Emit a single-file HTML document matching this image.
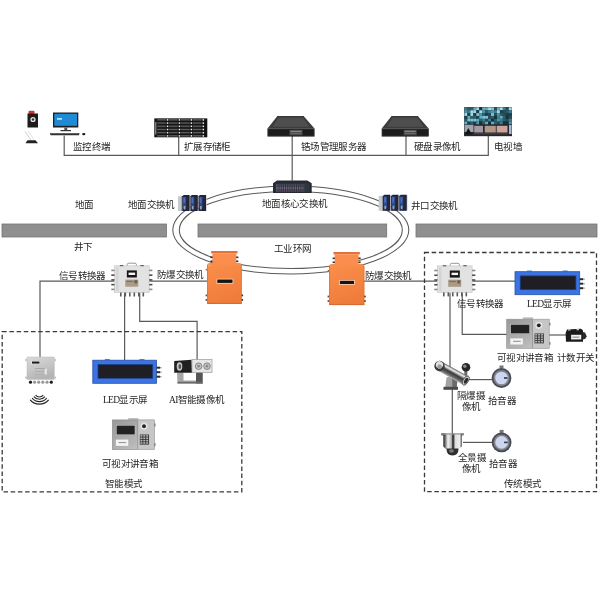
<!DOCTYPE html>
<html lang="zh-CN"><head><meta charset="utf-8"><style>
html,body{margin:0;padding:0;background:#fff;width:600px;height:600px;overflow:hidden;font-family:"Liberation Serif",serif}
body{position:relative}
svg{display:block;position:absolute;left:0;top:0}
.t{position:absolute;white-space:nowrap;will-change:transform;font-family:"Liberation Serif",serif;font-size:9.5px;line-height:1;font-weight:500;color:#1f1f1f;letter-spacing:-0.7px}
</style></head><body>
<svg width="600" height="600" viewBox="0 0 600 600">
<defs>
<linearGradient id="steel" x1="0" y1="0" x2="0.4" y2="1"><stop offset="0" stop-color="#dadada"/><stop offset="0.7" stop-color="#c0c0c0"/><stop offset="1" stop-color="#b4b4b4"/></linearGradient>
<linearGradient id="steel2" x1="0" y1="0" x2="1" y2="1"><stop offset="0" stop-color="#989898"/><stop offset="0.6" stop-color="#b4b4b4"/><stop offset="1" stop-color="#cfcfcf"/></linearGradient>
<linearGradient id="chrome" x1="0" y1="0" x2="0" y2="1"><stop offset="0" stop-color="#5a5a5a"/><stop offset="0.22" stop-color="#f0f0f0"/><stop offset="0.5" stop-color="#3a3a3a"/><stop offset="0.8" stop-color="#6a6a6a"/><stop offset="1" stop-color="#bdbdbd"/></linearGradient>
<linearGradient id="chrome2" x1="0" y1="0" x2="1" y2="0"><stop offset="0" stop-color="#6a6a6a"/><stop offset="0.12" stop-color="#2a2a2a"/><stop offset="0.3" stop-color="#f2f2f2"/><stop offset="0.45" stop-color="#bbb"/><stop offset="0.52" stop-color="#111"/><stop offset="0.62" stop-color="#ddd"/><stop offset="0.82" stop-color="#eee"/><stop offset="0.9" stop-color="#333"/><stop offset="1" stop-color="#999"/></linearGradient>
<linearGradient id="org" x1="0" y1="0" x2="0.3" y2="1"><stop offset="0" stop-color="#fa8f4c"/><stop offset="1" stop-color="#f07c3b"/></linearGradient>
</defs>
<rect width="600" height="600" fill="#fff"/>
<rect x="2.00" y="224.00" width="164.50" height="13.00" fill="#8f8f8f" stroke="#747474" stroke-width="0.8"/>
<rect x="198.00" y="224.00" width="188.70" height="13.00" fill="#8f8f8f" stroke="#747474" stroke-width="0.8"/>
<rect x="416.00" y="224.00" width="181.00" height="13.00" fill="#8f8f8f" stroke="#747474" stroke-width="0.8"/>
<ellipse cx="290.8" cy="230" rx="118" ry="44" fill="none" stroke="#5a5a5a" stroke-width="1.05"/>
<ellipse cx="290.8" cy="230" rx="111.5" ry="38.5" fill="none" stroke="#5a5a5a" stroke-width="1.05"/>
<polyline fill="none" stroke="#5a5a5a" stroke-width="1.2" points="64.2,135.5 64.2,155.4 488.3,155.4 488.3,136"/>
<polyline fill="none" stroke="#5a5a5a" stroke-width="1.2" points="178.7,136.5 178.7,155.4"/>
<polyline fill="none" stroke="#5a5a5a" stroke-width="1.2" points="292.2,136 292.2,180.5"/>
<polyline fill="none" stroke="#5a5a5a" stroke-width="1.2" points="406,136 406,155.4"/>
<polyline fill="none" stroke="#5a5a5a" stroke-width="1.2" points="114,281.2 40,281.2 40,357.2"/>
<polyline fill="none" stroke="#5a5a5a" stroke-width="1.2" points="149,281.2 208.5,281.2"/>
<polyline fill="none" stroke="#5a5a5a" stroke-width="1.2" points="124.6,293 124.6,360.5"/>
<polyline fill="none" stroke="#5a5a5a" stroke-width="1.2" points="139.7,293 139.7,321.4 197.1,321.4 197.1,360"/>
<polyline fill="none" stroke="#5a5a5a" stroke-width="1.2" points="363.5,281.2 437,281.2"/>
<polyline fill="none" stroke="#5a5a5a" stroke-width="1.2" points="472,281.2 515.5,281.2"/>
<polyline fill="none" stroke="#5a5a5a" stroke-width="1.2" points="450,293 450,372"/>
<polyline fill="none" stroke="#5a5a5a" stroke-width="1.2" points="452.3,386 452.3,434"/>
<polyline fill="none" stroke="#5a5a5a" stroke-width="1.2" points="462.2,293 462.2,334.4 507,334.4"/>
<polyline fill="none" stroke="#5a5a5a" stroke-width="1.2" points="549,335 566,335"/>
<polyline fill="none" stroke="#5a5a5a" stroke-width="1.2" points="466,379.6 492,379.6"/>
<polyline fill="none" stroke="#5a5a5a" stroke-width="1.2" points="463,442.4 492,442.4"/>
<rect x="2.2" y="331.6" width="239.6" height="160.2" fill="none" stroke="#3a3a3a" stroke-width="1.3" stroke-dasharray="4.5 2.7"/>
<rect x="424.5" y="252.5" width="172" height="239.2" fill="none" stroke="#3a3a3a" stroke-width="1.3" stroke-dasharray="4.5 2.7"/>
<rect x="28.5" y="110.8" width="6" height="3.5" rx="1" fill="#d8322e"/>
<rect x="27.50" y="113.50" width="10.50" height="14.00" fill="#1c1c1c" />
<circle cx="33" cy="119.5" r="2.6" fill="#e8e8e8"/><circle cx="33" cy="119.5" r="1.3" fill="#333"/>
<line x1="25" y1="131.5" x2="31" y2="140" stroke="#c4c4c4" stroke-width="0.9"/>
<line x1="28" y1="131" x2="34" y2="139.5" stroke="#d8d8d8" stroke-width="0.8"/>
<path d="M25.5 143.3 L27.5 140.3 L35.5 140.3 L38 143.3 Z" fill="#222"/>
<rect x="53.00" y="112.50" width="25.30" height="15.00" fill="#202020" />
<rect x="54.30" y="113.80" width="22.70" height="12.00" fill="#1f8ad6" />
<rect x="57.00" y="118.00" width="5.00" height="1.80" fill="#bfe0f7" />
<rect x="64.30" y="127.50" width="3.00" height="2.80" fill="#555" />
<rect x="60.50" y="130.00" width="10.50" height="1.20" fill="#333" />
<path d="M50 133 L79.5 133 L79 135.3 L50.5 135.3 Z" fill="#333"/>
<rect x="51.00" y="133.30" width="27.50" height="0.70" fill="#777" />
<ellipse cx="83.8" cy="134.2" rx="1.6" ry="1.1" fill="#111"/>
<rect x="154.30" y="118.40" width="53.00" height="18.90" fill="#121212" />
<rect x="155.20" y="122.00" width="1.20" height="12.50" fill="#9a9a9a" />
<rect x="156.80" y="118.80" width="9.60" height="2.20" fill="#2e2e2e" />
<rect x="157.30" y="119.40" width="8.30" height="0.80" fill="#6a6a6a" />
<rect x="166.85" y="119.15" width="1.50" height="1.50" fill="#f4f4f4" />
<rect x="168.70" y="118.80" width="9.60" height="2.20" fill="#2e2e2e" />
<rect x="169.20" y="119.40" width="8.30" height="0.80" fill="#6a6a6a" />
<rect x="178.75" y="119.15" width="1.50" height="1.50" fill="#f4f4f4" />
<rect x="180.60" y="118.80" width="9.60" height="2.20" fill="#2e2e2e" />
<rect x="181.10" y="119.40" width="8.30" height="0.80" fill="#6a6a6a" />
<rect x="190.65" y="119.15" width="1.50" height="1.50" fill="#f4f4f4" />
<rect x="192.50" y="118.80" width="9.60" height="2.20" fill="#2e2e2e" />
<rect x="193.00" y="119.40" width="8.30" height="0.80" fill="#6a6a6a" />
<rect x="202.55" y="119.15" width="1.50" height="1.50" fill="#f4f4f4" />
<rect x="156.80" y="122.00" width="9.60" height="2.20" fill="#2e2e2e" />
<rect x="157.30" y="122.60" width="8.30" height="0.80" fill="#6a6a6a" />
<rect x="166.85" y="122.35" width="1.50" height="1.50" fill="#f4f4f4" />
<rect x="168.70" y="122.00" width="9.60" height="2.20" fill="#2e2e2e" />
<rect x="169.20" y="122.60" width="8.30" height="0.80" fill="#6a6a6a" />
<rect x="178.75" y="122.35" width="1.50" height="1.50" fill="#f4f4f4" />
<rect x="180.60" y="122.00" width="9.60" height="2.20" fill="#2e2e2e" />
<rect x="181.10" y="122.60" width="8.30" height="0.80" fill="#6a6a6a" />
<rect x="190.65" y="122.35" width="1.50" height="1.50" fill="#f4f4f4" />
<rect x="192.50" y="122.00" width="9.60" height="2.20" fill="#2e2e2e" />
<rect x="193.00" y="122.60" width="8.30" height="0.80" fill="#6a6a6a" />
<rect x="202.55" y="122.35" width="1.50" height="1.50" fill="#f4f4f4" />
<rect x="156.80" y="125.20" width="9.60" height="2.20" fill="#2e2e2e" />
<rect x="157.30" y="125.80" width="8.30" height="0.80" fill="#6a6a6a" />
<rect x="166.85" y="125.55" width="1.50" height="1.50" fill="#f4f4f4" />
<rect x="168.70" y="125.20" width="9.60" height="2.20" fill="#2e2e2e" />
<rect x="169.20" y="125.80" width="8.30" height="0.80" fill="#6a6a6a" />
<rect x="178.75" y="125.55" width="1.50" height="1.50" fill="#f4f4f4" />
<rect x="180.60" y="125.20" width="9.60" height="2.20" fill="#2e2e2e" />
<rect x="181.10" y="125.80" width="8.30" height="0.80" fill="#6a6a6a" />
<rect x="190.65" y="125.55" width="1.50" height="1.50" fill="#f4f4f4" />
<rect x="192.50" y="125.20" width="9.60" height="2.20" fill="#2e2e2e" />
<rect x="193.00" y="125.80" width="8.30" height="0.80" fill="#6a6a6a" />
<rect x="202.55" y="125.55" width="1.50" height="1.50" fill="#f4f4f4" />
<rect x="156.80" y="128.40" width="9.60" height="2.20" fill="#2e2e2e" />
<rect x="157.30" y="129.00" width="8.30" height="0.80" fill="#6a6a6a" />
<rect x="166.85" y="128.75" width="1.50" height="1.50" fill="#f4f4f4" />
<rect x="168.70" y="128.40" width="9.60" height="2.20" fill="#2e2e2e" />
<rect x="169.20" y="129.00" width="8.30" height="0.80" fill="#6a6a6a" />
<rect x="178.75" y="128.75" width="1.50" height="1.50" fill="#f4f4f4" />
<rect x="180.60" y="128.40" width="9.60" height="2.20" fill="#2e2e2e" />
<rect x="181.10" y="129.00" width="8.30" height="0.80" fill="#6a6a6a" />
<rect x="190.65" y="128.75" width="1.50" height="1.50" fill="#f4f4f4" />
<rect x="192.50" y="128.40" width="9.60" height="2.20" fill="#2e2e2e" />
<rect x="193.00" y="129.00" width="8.30" height="0.80" fill="#6a6a6a" />
<rect x="202.55" y="128.75" width="1.50" height="1.50" fill="#f4f4f4" />
<rect x="156.80" y="131.60" width="9.60" height="2.20" fill="#2e2e2e" />
<rect x="157.30" y="132.20" width="8.30" height="0.80" fill="#6a6a6a" />
<rect x="166.85" y="131.95" width="1.50" height="1.50" fill="#f4f4f4" />
<rect x="168.70" y="131.60" width="9.60" height="2.20" fill="#2e2e2e" />
<rect x="169.20" y="132.20" width="8.30" height="0.80" fill="#6a6a6a" />
<rect x="178.75" y="131.95" width="1.50" height="1.50" fill="#f4f4f4" />
<rect x="180.60" y="131.60" width="9.60" height="2.20" fill="#2e2e2e" />
<rect x="181.10" y="132.20" width="8.30" height="0.80" fill="#6a6a6a" />
<rect x="190.65" y="131.95" width="1.50" height="1.50" fill="#f4f4f4" />
<rect x="192.50" y="131.60" width="9.60" height="2.20" fill="#2e2e2e" />
<rect x="193.00" y="132.20" width="8.30" height="0.80" fill="#6a6a6a" />
<rect x="202.55" y="131.95" width="1.50" height="1.50" fill="#f4f4f4" />
<rect x="156.80" y="134.80" width="9.60" height="2.20" fill="#2e2e2e" />
<rect x="157.30" y="135.40" width="8.30" height="0.80" fill="#6a6a6a" />
<rect x="166.85" y="135.15" width="1.50" height="1.50" fill="#f4f4f4" />
<rect x="168.70" y="134.80" width="9.60" height="2.20" fill="#2e2e2e" />
<rect x="169.20" y="135.40" width="8.30" height="0.80" fill="#6a6a6a" />
<rect x="178.75" y="135.15" width="1.50" height="1.50" fill="#f4f4f4" />
<rect x="180.60" y="134.80" width="9.60" height="2.20" fill="#2e2e2e" />
<rect x="181.10" y="135.40" width="8.30" height="0.80" fill="#6a6a6a" />
<rect x="190.65" y="135.15" width="1.50" height="1.50" fill="#f4f4f4" />
<rect x="192.50" y="134.80" width="9.60" height="2.20" fill="#2e2e2e" />
<rect x="193.00" y="135.40" width="8.30" height="0.80" fill="#6a6a6a" />
<rect x="202.55" y="135.15" width="1.50" height="1.50" fill="#f4f4f4" />
<path d="M277.00 116.50 L304.00 116.50 L314.50 128.50 L267.50 128.50 Z" fill="#3c3c3c"/>
<path d="M278.50 117.70 L303.00 117.70 L309.50 126.70 L272.50 126.70 Z" fill="#4e4e4e"/>
<path d="M277.00 116.50 L304.00 116.50" stroke="#222" stroke-width="0.8"/>
<rect x="267.50" y="128.50" width="47.00" height="8.00" fill="#141414" />
<rect x="268.10" y="129.10" width="45.80" height="6.80" fill="#1c1c1c" stroke="#3a3a3a" stroke-width="0.5"/>
<rect x="289.50" y="129.90" width="13.00" height="5.40" fill="#4a4a4a" />
<rect x="290.50" y="130.80" width="11.00" height="0.90" fill="#9a9a9a" />
<rect x="290.50" y="132.90" width="11.00" height="0.70" fill="#777" />
<path d="M391.20 116.50 L418.20 116.50 L428.70 128.50 L381.70 128.50 Z" fill="#3c3c3c"/>
<path d="M392.70 117.70 L417.20 117.70 L423.70 126.70 L386.70 126.70 Z" fill="#4e4e4e"/>
<path d="M391.20 116.50 L418.20 116.50" stroke="#222" stroke-width="0.8"/>
<rect x="381.70" y="128.50" width="47.00" height="8.00" fill="#141414" />
<rect x="382.30" y="129.10" width="45.80" height="6.80" fill="#1c1c1c" stroke="#3a3a3a" stroke-width="0.5"/>
<rect x="403.70" y="129.90" width="13.00" height="5.40" fill="#4a4a4a" />
<rect x="404.70" y="130.80" width="11.00" height="0.90" fill="#9a9a9a" />
<rect x="404.70" y="132.90" width="11.00" height="0.70" fill="#777" />
<rect x="464.20" y="107.10" width="47.70" height="29.00" fill="#20303a" />
<rect x="464.50" y="107.40" width="2.95" height="2.85" fill="#3c7f92" />
<rect x="464.50" y="110.25" width="2.95" height="2.85" fill="#4b98ac" />
<rect x="464.50" y="113.10" width="2.95" height="2.85" fill="#a7dbe2" />
<rect x="464.50" y="115.95" width="2.95" height="2.85" fill="#1f3f4c" />
<rect x="464.50" y="118.80" width="2.95" height="2.85" fill="#2b5f70" />
<rect x="464.50" y="121.65" width="2.95" height="2.85" fill="#5fb0c2" />
<rect x="467.45" y="107.40" width="2.95" height="2.85" fill="#2b5f70" />
<rect x="467.45" y="110.25" width="2.95" height="2.85" fill="#3c7f92" />
<rect x="467.45" y="113.10" width="2.95" height="2.85" fill="#1f3f4c" />
<rect x="467.45" y="115.95" width="2.95" height="2.85" fill="#5fb0c2" />
<rect x="467.45" y="118.80" width="2.95" height="2.85" fill="#7fc6d4" />
<rect x="467.45" y="121.65" width="2.95" height="2.85" fill="#1f3f4c" />
<rect x="470.40" y="107.40" width="2.95" height="2.85" fill="#2b5f70" />
<rect x="470.40" y="110.25" width="2.95" height="2.85" fill="#a7dbe2" />
<rect x="470.40" y="113.10" width="2.95" height="2.85" fill="#a7dbe2" />
<rect x="470.40" y="115.95" width="2.95" height="2.85" fill="#2b5f70" />
<rect x="470.40" y="118.80" width="2.95" height="2.85" fill="#7fc6d4" />
<rect x="470.40" y="121.65" width="2.95" height="2.85" fill="#2b5f70" />
<rect x="473.35" y="107.40" width="2.95" height="2.85" fill="#5fb0c2" />
<rect x="473.35" y="110.25" width="2.95" height="2.85" fill="#a7dbe2" />
<rect x="473.35" y="113.10" width="2.95" height="2.85" fill="#1f3f4c" />
<rect x="473.35" y="115.95" width="2.95" height="2.85" fill="#2b5f70" />
<rect x="473.35" y="118.80" width="2.95" height="2.85" fill="#7fc6d4" />
<rect x="473.35" y="121.65" width="2.95" height="2.85" fill="#1f3f4c" />
<rect x="476.30" y="107.40" width="2.95" height="2.85" fill="#a7dbe2" />
<rect x="476.30" y="110.25" width="2.95" height="2.85" fill="#1f3f4c" />
<rect x="476.30" y="113.10" width="2.95" height="2.85" fill="#7fc6d4" />
<rect x="476.30" y="115.95" width="2.95" height="2.85" fill="#1f3f4c" />
<rect x="476.30" y="118.80" width="2.95" height="2.85" fill="#5fb0c2" />
<rect x="476.30" y="121.65" width="2.95" height="2.85" fill="#4b98ac" />
<rect x="479.25" y="107.40" width="2.95" height="2.85" fill="#173039" />
<rect x="479.25" y="110.25" width="2.95" height="2.85" fill="#a7dbe2" />
<rect x="479.25" y="113.10" width="2.95" height="2.85" fill="#4b98ac" />
<rect x="479.25" y="115.95" width="2.95" height="2.85" fill="#5fb0c2" />
<rect x="479.25" y="118.80" width="2.95" height="2.85" fill="#2b5f70" />
<rect x="479.25" y="121.65" width="2.95" height="2.85" fill="#173039" />
<rect x="482.20" y="107.40" width="2.95" height="2.85" fill="#5fb0c2" />
<rect x="482.20" y="110.25" width="2.95" height="2.85" fill="#4b98ac" />
<rect x="482.20" y="113.10" width="2.95" height="2.85" fill="#2b5f70" />
<rect x="482.20" y="115.95" width="2.95" height="2.85" fill="#7fc6d4" />
<rect x="482.20" y="118.80" width="2.95" height="2.85" fill="#3c7f92" />
<rect x="482.20" y="121.65" width="2.95" height="2.85" fill="#2b5f70" />
<rect x="485.15" y="107.40" width="2.95" height="2.85" fill="#5fb0c2" />
<rect x="485.15" y="110.25" width="2.95" height="2.85" fill="#2b5f70" />
<rect x="485.15" y="113.10" width="2.95" height="2.85" fill="#1f3f4c" />
<rect x="485.15" y="115.95" width="2.95" height="2.85" fill="#7fc6d4" />
<rect x="485.15" y="118.80" width="2.95" height="2.85" fill="#2a4c58" />
<rect x="485.15" y="121.65" width="2.95" height="2.85" fill="#5fb0c2" />
<rect x="488.10" y="107.40" width="2.95" height="2.85" fill="#a7dbe2" />
<rect x="488.10" y="110.25" width="2.95" height="2.85" fill="#3c7f92" />
<rect x="488.10" y="113.10" width="2.95" height="2.85" fill="#2a4c58" />
<rect x="488.10" y="115.95" width="2.95" height="2.85" fill="#2a4c58" />
<rect x="488.10" y="118.80" width="2.95" height="2.85" fill="#3c7f92" />
<rect x="488.10" y="121.65" width="2.95" height="2.85" fill="#173039" />
<rect x="491.05" y="107.40" width="2.95" height="2.85" fill="#7fc6d4" />
<rect x="491.05" y="110.25" width="2.95" height="2.85" fill="#4b98ac" />
<rect x="491.05" y="113.10" width="2.95" height="2.85" fill="#7fc6d4" />
<rect x="491.05" y="115.95" width="2.95" height="2.85" fill="#2b5f70" />
<rect x="491.05" y="118.80" width="2.95" height="2.85" fill="#173039" />
<rect x="491.05" y="121.65" width="2.95" height="2.85" fill="#5fb0c2" />
<rect x="494.00" y="107.40" width="2.95" height="2.85" fill="#2a4c58" />
<rect x="494.00" y="110.25" width="2.95" height="2.85" fill="#3c7f92" />
<rect x="494.00" y="113.10" width="2.95" height="2.85" fill="#2a4c58" />
<rect x="494.00" y="115.95" width="2.95" height="2.85" fill="#173039" />
<rect x="494.00" y="118.80" width="2.95" height="2.85" fill="#2b5f70" />
<rect x="494.00" y="121.65" width="2.95" height="2.85" fill="#2b5f70" />
<rect x="496.95" y="107.40" width="2.95" height="2.85" fill="#5fb0c2" />
<rect x="496.95" y="110.25" width="2.95" height="2.85" fill="#a7dbe2" />
<rect x="496.95" y="113.10" width="2.95" height="2.85" fill="#4b98ac" />
<rect x="496.95" y="115.95" width="2.95" height="2.85" fill="#3c7f92" />
<rect x="496.95" y="118.80" width="2.95" height="2.85" fill="#4b98ac" />
<rect x="496.95" y="121.65" width="2.95" height="2.85" fill="#2a4c58" />
<rect x="499.90" y="107.40" width="2.95" height="2.85" fill="#a7dbe2" />
<rect x="499.90" y="110.25" width="2.95" height="2.85" fill="#1f3f4c" />
<rect x="499.90" y="113.10" width="2.95" height="2.85" fill="#2b5f70" />
<rect x="499.90" y="115.95" width="2.95" height="2.85" fill="#5fb0c2" />
<rect x="499.90" y="118.80" width="2.95" height="2.85" fill="#3c7f92" />
<rect x="499.90" y="121.65" width="2.95" height="2.85" fill="#3c7f92" />
<rect x="502.85" y="107.40" width="2.95" height="2.85" fill="#3c7f92" />
<rect x="502.85" y="110.25" width="2.95" height="2.85" fill="#2a4c58" />
<rect x="502.85" y="113.10" width="2.95" height="2.85" fill="#2a4c58" />
<rect x="502.85" y="115.95" width="2.95" height="2.85" fill="#2b5f70" />
<rect x="502.85" y="118.80" width="2.95" height="2.85" fill="#2b5f70" />
<rect x="502.85" y="121.65" width="2.95" height="2.85" fill="#173039" />
<rect x="505.80" y="107.40" width="2.95" height="2.85" fill="#2a4c58" />
<rect x="505.80" y="110.25" width="2.95" height="2.85" fill="#2b5f70" />
<rect x="505.80" y="113.10" width="2.95" height="2.85" fill="#1f3f4c" />
<rect x="505.80" y="115.95" width="2.95" height="2.85" fill="#173039" />
<rect x="505.80" y="118.80" width="2.95" height="2.85" fill="#2a4c58" />
<rect x="505.80" y="121.65" width="2.95" height="2.85" fill="#173039" />
<rect x="508.75" y="107.40" width="2.95" height="2.85" fill="#a7dbe2" />
<rect x="508.75" y="110.25" width="2.95" height="2.85" fill="#3c7f92" />
<rect x="508.75" y="113.10" width="2.95" height="2.85" fill="#1f3f4c" />
<rect x="508.75" y="115.95" width="2.95" height="2.85" fill="#2a4c58" />
<rect x="508.75" y="118.80" width="2.95" height="2.85" fill="#3c7f92" />
<rect x="508.75" y="121.65" width="2.95" height="2.85" fill="#4b98ac" />
<rect x="464.20" y="124.50" width="47.70" height="11.60" fill="#26272c" />
<rect x="464.50" y="124.80" width="9.00" height="7.20" fill="#9ea3ad" />
<path d="M465 134.5 L468.3 128 L472 134.5 Z" fill="#141414"/>
<rect x="474.20" y="125.80" width="8.80" height="6.70" fill="#a29a9e" />
<rect x="484.70" y="125.80" width="11.10" height="6.70" fill="#b3968a" />
<rect x="496.70" y="125.80" width="10.80" height="6.70" fill="#cda39a" />
<rect x="509.00" y="125.00" width="2.60" height="9.00" fill="#a8b4d8" />
<rect x="474.00" y="133.50" width="34.00" height="0.70" fill="#55565c" />
<rect x="178.00" y="196.20" width="4.20" height="14.80" fill="#c6c9ce" />
<rect x="181.20" y="196.20" width="1.00" height="14.80" fill="#9aa0a8" />
<path d="M182.20 196.20 L183.70 195.00 L189.67 195.00 L189.67 211.00 Z" fill="#1d2340"/>
<rect x="182.20" y="196.20" width="7.47" height="14.80" fill="#1d2340"/>
<rect x="183.00" y="196.80" width="3.40" height="11.70" fill="#2c4a8e" />
<rect x="183.40" y="197.50" width="1.80" height="5.50" fill="#4a6fb8" />
<rect x="186.40" y="197.00" width="2.37" height="13.00" fill="#2a2730" />
<rect x="183.70" y="206.00" width="1.70" height="3.50" fill="#9aa2b5" />
<rect x="189.67" y="195.50" width="0.70" height="15.50" fill="#c8cbd2" />
<path d="M190.37 196.20 L191.87 195.00 L197.83 195.00 L197.83 211.00 Z" fill="#1d2340"/>
<rect x="190.37" y="196.20" width="7.47" height="14.80" fill="#1d2340"/>
<rect x="191.17" y="196.80" width="3.40" height="11.70" fill="#2c4a8e" />
<rect x="191.57" y="197.50" width="1.80" height="5.50" fill="#4a6fb8" />
<rect x="194.57" y="197.00" width="2.37" height="13.00" fill="#2a2730" />
<rect x="191.87" y="206.00" width="1.70" height="3.50" fill="#9aa2b5" />
<rect x="197.83" y="195.50" width="0.70" height="15.50" fill="#c8cbd2" />
<path d="M198.53 196.20 L200.03 195.00 L206.00 195.00 L206.00 211.00 Z" fill="#1d2340"/>
<rect x="198.53" y="196.20" width="7.47" height="14.80" fill="#1d2340"/>
<rect x="199.33" y="196.80" width="3.40" height="11.70" fill="#2c4a8e" />
<rect x="199.73" y="197.50" width="1.80" height="5.50" fill="#4a6fb8" />
<rect x="202.73" y="197.00" width="2.37" height="13.00" fill="#2a2730" />
<rect x="200.03" y="206.00" width="1.70" height="3.50" fill="#9aa2b5" />
<rect x="206.00" y="195.50" width="0.70" height="15.50" fill="#c8cbd2" />
<rect x="378.70" y="195.90" width="4.20" height="14.90" fill="#c6c9ce" />
<rect x="381.90" y="195.90" width="1.00" height="14.90" fill="#9aa0a8" />
<path d="M382.90 195.90 L384.40 194.70 L390.40 194.70 L390.40 210.80 Z" fill="#1d2340"/>
<rect x="382.90" y="195.90" width="7.50" height="14.90" fill="#1d2340"/>
<rect x="383.70" y="196.50" width="3.40" height="11.80" fill="#2c4a8e" />
<rect x="384.10" y="197.20" width="1.80" height="5.50" fill="#4a6fb8" />
<rect x="387.10" y="196.70" width="2.40" height="13.10" fill="#2a2730" />
<rect x="384.40" y="205.80" width="1.70" height="3.50" fill="#9aa2b5" />
<rect x="390.40" y="195.20" width="0.70" height="15.60" fill="#c8cbd2" />
<path d="M391.10 195.90 L392.60 194.70 L398.60 194.70 L398.60 210.80 Z" fill="#1d2340"/>
<rect x="391.10" y="195.90" width="7.50" height="14.90" fill="#1d2340"/>
<rect x="391.90" y="196.50" width="3.40" height="11.80" fill="#2c4a8e" />
<rect x="392.30" y="197.20" width="1.80" height="5.50" fill="#4a6fb8" />
<rect x="395.30" y="196.70" width="2.40" height="13.10" fill="#2a2730" />
<rect x="392.60" y="205.80" width="1.70" height="3.50" fill="#9aa2b5" />
<rect x="398.60" y="195.20" width="0.70" height="15.60" fill="#c8cbd2" />
<path d="M399.30 195.90 L400.80 194.70 L406.80 194.70 L406.80 210.80 Z" fill="#1d2340"/>
<rect x="399.30" y="195.90" width="7.50" height="14.90" fill="#1d2340"/>
<rect x="400.10" y="196.50" width="3.40" height="11.80" fill="#2c4a8e" />
<rect x="400.50" y="197.20" width="1.80" height="5.50" fill="#4a6fb8" />
<rect x="403.50" y="196.70" width="2.40" height="13.10" fill="#2a2730" />
<rect x="400.80" y="205.80" width="1.70" height="3.50" fill="#9aa2b5" />
<rect x="406.80" y="195.20" width="0.70" height="15.60" fill="#c8cbd2" />
<path d="M277 180.4 L307.3 180.4 L311.7 183.3 L311.7 193 L273 193 L273 183.3 Z" fill="#262a33"/>
<rect x="276.00" y="183.80" width="33.00" height="8.00" fill="#4a5262" />
<rect x="276.50" y="187.00" width="27.50" height="2.30" fill="#8e5f7e" />
<rect x="277.60" y="184.00" width="0.85" height="7.50" fill="#2c313c" />
<rect x="279.45" y="184.00" width="0.85" height="7.50" fill="#2c313c" />
<rect x="281.30" y="184.00" width="0.85" height="7.50" fill="#2c313c" />
<rect x="283.15" y="184.00" width="0.85" height="7.50" fill="#2c313c" />
<rect x="285.00" y="184.00" width="0.85" height="7.50" fill="#2c313c" />
<rect x="286.85" y="184.00" width="0.85" height="7.50" fill="#2c313c" />
<rect x="288.70" y="184.00" width="0.85" height="7.50" fill="#2c313c" />
<rect x="290.55" y="184.00" width="0.85" height="7.50" fill="#2c313c" />
<rect x="292.40" y="184.00" width="0.85" height="7.50" fill="#2c313c" />
<rect x="294.25" y="184.00" width="0.85" height="7.50" fill="#2c313c" />
<rect x="296.10" y="184.00" width="0.85" height="7.50" fill="#2c313c" />
<rect x="297.95" y="184.00" width="0.85" height="7.50" fill="#2c313c" />
<rect x="299.80" y="184.00" width="0.85" height="7.50" fill="#2c313c" />
<rect x="301.65" y="184.00" width="0.85" height="7.50" fill="#2c313c" />
<rect x="303.50" y="184.00" width="0.85" height="7.50" fill="#2c313c" />
<rect x="305.35" y="184.00" width="0.85" height="7.50" fill="#2c313c" />
<rect x="307.20" y="184.00" width="0.85" height="7.50" fill="#2c313c" />
<rect x="309.05" y="184.00" width="0.85" height="7.50" fill="#2c313c" />
<rect x="304.50" y="184.00" width="4.50" height="7.80" fill="#30353f" />
<rect x="211.15" y="251.00" width="26.40" height="2.40" fill="#e5703a" />
<rect x="212.35" y="253.30" width="24.00" height="10.60" fill="#f98e4e" />
<path d="M207.00 265.40 L209.50 262.90 Q207.00 262.90 207.00 265.40 L207.00 304.00 L241.70 304.00 L241.70 265.40 Q241.70 262.90 239.20 262.90 Z" fill="url(#org)"/>
<path d="M209.50 262.90 L239.20 262.90 L241.70 265.40 L207.00 265.40 Z" fill="#f98d4a"/>
<rect x="207.00" y="302.80" width="34.70" height="1.20" fill="#d86a33" />
<rect x="207.00" y="264.90" width="0.90" height="39.10" fill="#e07638" />
<rect x="240.80" y="264.90" width="0.90" height="39.10" fill="#e07638" />
<rect x="216.50" y="278.70" width="16.80" height="5.00" fill="#fbd2b5" />
<rect x="217.30" y="279.50" width="15.20" height="3.40" fill="#141414" />
<rect x="210.35" y="256.50" width="2.20" height="1.60" fill="#3c2a20" />
<rect x="236.15" y="256.50" width="2.20" height="1.60" fill="#3c2a20" />
<rect x="210.35" y="260.50" width="2.20" height="1.60" fill="#3c2a20" />
<rect x="236.15" y="260.50" width="2.20" height="1.60" fill="#3c2a20" />
<rect x="205.60" y="294.50" width="1.40" height="1.80" fill="#7a4526" />
<rect x="241.70" y="294.50" width="1.40" height="1.80" fill="#3c2a20" />
<rect x="205.60" y="299.00" width="1.40" height="1.80" fill="#7a4526" />
<rect x="241.70" y="299.00" width="1.40" height="1.80" fill="#3c2a20" />
<rect x="205.70" y="268.90" width="1.30" height="1.60" fill="#c0602c" />
<rect x="333.45" y="252.00" width="26.40" height="2.40" fill="#e5703a" />
<rect x="334.65" y="254.30" width="24.00" height="10.70" fill="#f98e4e" />
<path d="M329.00 266.50 L331.50 264.00 Q329.00 264.00 329.00 266.50 L329.00 305.10 L364.30 305.10 L364.30 266.50 Q364.30 264.00 361.80 264.00 Z" fill="url(#org)"/>
<path d="M331.50 264.00 L361.80 264.00 L364.30 266.50 L329.00 266.50 Z" fill="#f98d4a"/>
<rect x="329.00" y="303.90" width="35.30" height="1.20" fill="#d86a33" />
<rect x="329.00" y="266.00" width="0.90" height="39.10" fill="#e07638" />
<rect x="363.40" y="266.00" width="0.90" height="39.10" fill="#e07638" />
<rect x="339.10" y="280.00" width="15.70" height="4.80" fill="#fbd2b5" />
<rect x="339.90" y="280.80" width="14.10" height="3.20" fill="#141414" />
<rect x="332.65" y="257.50" width="2.20" height="1.60" fill="#3c2a20" />
<rect x="358.45" y="257.50" width="2.20" height="1.60" fill="#3c2a20" />
<rect x="332.65" y="261.50" width="2.20" height="1.60" fill="#3c2a20" />
<rect x="358.45" y="261.50" width="2.20" height="1.60" fill="#3c2a20" />
<rect x="327.60" y="295.60" width="1.40" height="1.80" fill="#7a4526" />
<rect x="364.30" y="295.60" width="1.40" height="1.80" fill="#3c2a20" />
<rect x="327.60" y="300.10" width="1.40" height="1.80" fill="#7a4526" />
<rect x="364.30" y="300.10" width="1.40" height="1.80" fill="#3c2a20" />
<rect x="327.70" y="270.00" width="1.30" height="1.60" fill="#c0602c" />
<path d="M127.2 266.1 L127.2 264.6 Q127.2 263.2 128.8 263.2 L134.8 263.2 Q136.4 263.2 136.4 264.6 L136.4 266.1" fill="none" stroke="#8a8a8a" stroke-width="0.9"/>
<rect x="114.50" y="265.80" width="34.70" height="26.70" fill="#e2e2e2" stroke="#c9c9c9" stroke-width="0.7"/>
<rect x="116.00" y="267.30" width="2.50" height="23.70" fill="#d4d4d4" />
<rect x="119.85" y="265.00" width="3.50" height="1.20" fill="#666" />
<rect x="140.35" y="265.00" width="3.50" height="1.20" fill="#666" />
<rect x="111.30" y="269.60" width="3.20" height="1.60" fill="#888" />
<rect x="149.20" y="269.60" width="3.20" height="1.60" fill="#888" />
<rect x="111.30" y="274.35" width="3.20" height="1.60" fill="#4a4a4a" />
<rect x="149.20" y="274.35" width="3.20" height="1.60" fill="#4a4a4a" />
<rect x="111.30" y="279.10" width="3.20" height="1.60" fill="#4a4a4a" />
<rect x="149.20" y="279.10" width="3.20" height="1.60" fill="#4a4a4a" />
<rect x="111.30" y="283.85" width="3.20" height="1.60" fill="#4a4a4a" />
<rect x="149.20" y="283.85" width="3.20" height="1.60" fill="#4a4a4a" />
<rect x="111.30" y="288.60" width="3.20" height="1.60" fill="#888" />
<rect x="149.20" y="288.60" width="3.20" height="1.60" fill="#888" />
<rect x="120.00" y="292.50" width="1.60" height="4.00" fill="#5a5a5a" />
<rect x="124.50" y="292.50" width="1.60" height="4.00" fill="#5a5a5a" />
<rect x="129.00" y="292.50" width="1.60" height="4.00" fill="#5a5a5a" />
<rect x="133.50" y="292.50" width="1.60" height="4.00" fill="#5a5a5a" />
<rect x="138.00" y="292.50" width="1.60" height="4.00" fill="#5a5a5a" />
<rect x="142.50" y="292.50" width="1.60" height="4.00" fill="#5a5a5a" />
<rect x="126.85" y="270.40" width="10.00" height="7.10" fill="#151515" />
<rect x="128.55" y="272.60" width="6.60" height="2.40" fill="#f4f4f4" />
<rect x="125.25" y="279.60" width="13.00" height="7.10" fill="#a99b86" />
<rect x="126.35" y="280.80" width="6.50" height="1.20" fill="#7d705f" />
<rect x="134.35" y="280.30" width="3.00" height="3.00" fill="#6b5e4e" />
<path d="M450.2 266.2 L450.2 264.7 Q450.2 263.3 451.8 263.3 L457.8 263.3 Q459.4 263.3 459.4 264.7 L459.4 266.2" fill="none" stroke="#8a8a8a" stroke-width="0.9"/>
<rect x="437.50" y="265.90" width="34.60" height="26.50" fill="#e2e2e2" stroke="#c9c9c9" stroke-width="0.7"/>
<rect x="439.00" y="267.40" width="2.50" height="23.50" fill="#d4d4d4" />
<rect x="442.80" y="265.10" width="3.50" height="1.20" fill="#666" />
<rect x="463.30" y="265.10" width="3.50" height="1.20" fill="#666" />
<rect x="434.30" y="269.70" width="3.20" height="1.60" fill="#888" />
<rect x="472.10" y="269.70" width="3.20" height="1.60" fill="#888" />
<rect x="434.30" y="274.45" width="3.20" height="1.60" fill="#4a4a4a" />
<rect x="472.10" y="274.45" width="3.20" height="1.60" fill="#4a4a4a" />
<rect x="434.30" y="279.20" width="3.20" height="1.60" fill="#4a4a4a" />
<rect x="472.10" y="279.20" width="3.20" height="1.60" fill="#4a4a4a" />
<rect x="434.30" y="283.95" width="3.20" height="1.60" fill="#4a4a4a" />
<rect x="472.10" y="283.95" width="3.20" height="1.60" fill="#4a4a4a" />
<rect x="434.30" y="288.70" width="3.20" height="1.60" fill="#888" />
<rect x="472.10" y="288.70" width="3.20" height="1.60" fill="#888" />
<rect x="443.00" y="292.40" width="1.60" height="4.00" fill="#5a5a5a" />
<rect x="447.50" y="292.40" width="1.60" height="4.00" fill="#5a5a5a" />
<rect x="452.00" y="292.40" width="1.60" height="4.00" fill="#5a5a5a" />
<rect x="456.50" y="292.40" width="1.60" height="4.00" fill="#5a5a5a" />
<rect x="461.00" y="292.40" width="1.60" height="4.00" fill="#5a5a5a" />
<rect x="465.50" y="292.40" width="1.60" height="4.00" fill="#5a5a5a" />
<rect x="449.80" y="270.50" width="10.00" height="7.10" fill="#151515" />
<rect x="451.50" y="272.70" width="6.60" height="2.40" fill="#f4f4f4" />
<rect x="448.20" y="279.70" width="13.00" height="7.10" fill="#a99b86" />
<rect x="449.30" y="280.90" width="6.50" height="1.20" fill="#7d705f" />
<rect x="457.30" y="280.40" width="3.00" height="3.00" fill="#6b5e4e" />
<rect x="25.20" y="359.00" width="1.80" height="2.20" fill="#c8c8c8" />
<rect x="54.30" y="359.00" width="1.80" height="2.20" fill="#c8c8c8" />
<rect x="25.20" y="376.50" width="1.80" height="2.20" fill="#c8c8c8" />
<rect x="54.30" y="376.50" width="1.80" height="2.20" fill="#c8c8c8" />
<rect x="27" y="357" width="27.3" height="22.4" fill="url(#steel)" stroke="#bdbdbd" stroke-width="0.5"/>
<rect x="31.40" y="361.00" width="8.70" height="3.10" fill="#f0f0f0" />
<rect x="32.00" y="361.50" width="7.50" height="2.10" fill="#1c1c1c" />
<rect x="35.00" y="368.00" width="11.00" height="1.00" fill="#a8a8a8" />
<rect x="35.00" y="371.00" width="9.00" height="1.00" fill="#b0b0b0" />
<rect x="35.00" y="374.00" width="9.00" height="1.00" fill="#b0b0b0" />
<rect x="44.80" y="368.50" width="2.00" height="6.00" fill="#e8e8e8" />
<circle cx="30.5" cy="382.2" r="1.6" fill="#1e1e1e"/>
<circle cx="34.6" cy="382.2" r="1.6" fill="#9a9a9a"/>
<circle cx="38.7" cy="382.2" r="1.6" fill="#9a9a9a"/>
<circle cx="42.8" cy="382.2" r="1.6" fill="#9a9a9a"/>
<circle cx="47.0" cy="382.2" r="1.6" fill="#9a9a9a"/>
<circle cx="51.3" cy="382.2" r="1.6" fill="#1e1e1e"/>
<path d="M43.23 395.21 A5 5 0 0 1 35.57 395.21" fill="none" stroke="#262626" stroke-width="1.15"/>
<path d="M44.99 396.69 A7.3 7.3 0 0 1 33.81 396.69" fill="none" stroke="#262626" stroke-width="1.15"/>
<path d="M46.75 398.17 A9.6 9.6 0 0 1 32.05 398.17" fill="none" stroke="#262626" stroke-width="1.15"/>
<path d="M48.67 399.78 A12.1 12.1 0 0 1 30.13 399.78" fill="none" stroke="#262626" stroke-width="1.15"/>
<rect x="104.80" y="359.00" width="5.00" height="1.20" fill="#4a8ae6" />
<rect x="139.50" y="359.00" width="5.00" height="1.20" fill="#4a8ae6" />
<rect x="92.80" y="360.20" width="63.70" height="23.10" fill="#3b74e2" stroke="#2650b0" stroke-width="0.8"/>
<rect x="98.00" y="364.40" width="54.70" height="13.90" fill="#1e1e24" stroke="#1c3f90" stroke-width="0.7"/>
<rect x="156.50" y="366.70" width="3.50" height="2.00" fill="#2b2b2b" />
<rect x="160.00" y="367.00" width="1.50" height="1.40" fill="#999" />
<rect x="156.50" y="371.20" width="3.50" height="2.00" fill="#2b2b2b" />
<rect x="160.00" y="371.50" width="1.50" height="1.40" fill="#999" />
<rect x="156.50" y="375.70" width="3.50" height="2.00" fill="#2b2b2b" />
<rect x="160.00" y="376.00" width="1.50" height="1.40" fill="#999" />
<rect x="527.00" y="270.50" width="5.00" height="1.20" fill="#4a8ae6" />
<rect x="562.70" y="270.50" width="5.00" height="1.20" fill="#4a8ae6" />
<rect x="515.00" y="271.70" width="64.70" height="23.00" fill="#3b74e2" stroke="#2650b0" stroke-width="0.8"/>
<rect x="520.20" y="275.90" width="55.70" height="13.80" fill="#1e1e24" stroke="#1c3f90" stroke-width="0.7"/>
<rect x="579.70" y="278.20" width="3.50" height="2.00" fill="#2b2b2b" />
<rect x="583.20" y="278.50" width="1.50" height="1.40" fill="#999" />
<rect x="579.70" y="282.70" width="3.50" height="2.00" fill="#2b2b2b" />
<rect x="583.20" y="283.00" width="1.50" height="1.40" fill="#999" />
<rect x="579.70" y="287.20" width="3.50" height="2.00" fill="#2b2b2b" />
<rect x="583.20" y="287.50" width="1.50" height="1.40" fill="#999" />
<path d="M177 372.5 L183.5 372.5 L183.5 380.5 L197 380.5 L197 372.5 L202.6 372.5 L202.6 383.5 L177.5 383.5 Z" fill="#a8a8a8"/>
<rect x="196.00" y="372.50" width="6.60" height="11.00" fill="#555" />
<rect x="177.50" y="381.80" width="25.10" height="1.70" fill="#6a6a6a" />
<path d="M174.2 361 L191.5 359.8 L192 372.8 L174.2 372.8 Z" fill="#202020"/>
<ellipse cx="179.5" cy="366.5" rx="2.8" ry="4.2" fill="#c8c8c8"/>
<ellipse cx="179.8" cy="366.5" rx="1.4" ry="2.6" fill="#555"/>
<rect x="192.00" y="359.60" width="20.00" height="12.80" fill="#e6e6e6" stroke="#9a9a9a" stroke-width="0.7"/>
<circle cx="198.6" cy="366.2" r="3.3" fill="#c4c4c4" stroke="#666" stroke-width="0.7"/>
<circle cx="207" cy="366.2" r="3.3" fill="#c4c4c4" stroke="#666" stroke-width="0.7"/>
<circle cx="198.6" cy="366.2" r="1.4" fill="#8a8a8a"/><circle cx="207" cy="366.2" r="1.4" fill="#8a8a8a"/>
<rect x="128.26" y="418.10" width="10.08" height="1.80" fill="#b8b8b8" />
<rect x="112.30" y="419.90" width="42.00" height="29.80" fill="url(#steel2)" stroke="#8d8d8d" stroke-width="0.6"/>
<rect x="137.92" y="420.30" width="15.98" height="29.00" fill="#c6c6c6" />
<rect x="137.50" y="420.30" width="0.63" height="29.00" fill="#8a8a8a" />
<rect x="116.29" y="425.26" width="18.69" height="9.54" fill="#222" stroke="#d0d0d0" stroke-width="0.5"/>
<rect x="115.87" y="439.57" width="12.39" height="6.26" fill="#f4f4f4" />
<rect x="118.60" y="441.95" width="7.56" height="1.19" fill="#999" />
<circle cx="144.01" cy="426.16" r="3.57" fill="#e2e2e2"/>
<circle cx="144.01" cy="426.16" r="1.89" fill="#222"/>
<rect x="139.81" y="434.50" width="9.24" height="10.13" fill="#3a3a3a" />
<rect x="140.41" y="435.10" width="1.98" height="1.53" fill="#b4b4b4" />
<rect x="143.29" y="435.10" width="1.98" height="1.53" fill="#b4b4b4" />
<rect x="146.17" y="435.10" width="1.98" height="1.53" fill="#b4b4b4" />
<rect x="140.41" y="437.49" width="1.98" height="1.53" fill="#b4b4b4" />
<rect x="143.29" y="437.49" width="1.98" height="1.53" fill="#b4b4b4" />
<rect x="146.17" y="437.49" width="1.98" height="1.53" fill="#b4b4b4" />
<rect x="140.41" y="439.87" width="1.98" height="1.53" fill="#b4b4b4" />
<rect x="143.29" y="439.87" width="1.98" height="1.53" fill="#b4b4b4" />
<rect x="146.17" y="439.87" width="1.98" height="1.53" fill="#b4b4b4" />
<rect x="140.41" y="442.25" width="1.98" height="1.53" fill="#b4b4b4" />
<rect x="143.29" y="442.25" width="1.98" height="1.53" fill="#b4b4b4" />
<rect x="146.17" y="442.25" width="1.98" height="1.53" fill="#b4b4b4" />
<rect x="154.30" y="423.48" width="1.20" height="2.98" fill="#777" />
<rect x="154.30" y="443.14" width="1.20" height="2.98" fill="#777" />
<rect x="522.85" y="317.40" width="10.20" height="1.80" fill="#b8b8b8" />
<rect x="506.70" y="319.20" width="42.50" height="29.10" fill="url(#steel2)" stroke="#8d8d8d" stroke-width="0.6"/>
<rect x="532.62" y="319.60" width="16.18" height="28.30" fill="#c6c6c6" />
<rect x="532.20" y="319.60" width="0.64" height="28.30" fill="#8a8a8a" />
<rect x="510.74" y="324.44" width="18.91" height="9.31" fill="#222" stroke="#d0d0d0" stroke-width="0.5"/>
<rect x="510.31" y="338.41" width="12.54" height="6.11" fill="#f4f4f4" />
<rect x="513.08" y="340.73" width="7.65" height="1.16" fill="#999" />
<circle cx="538.79" cy="325.31" r="3.61" fill="#e2e2e2"/>
<circle cx="538.79" cy="325.31" r="1.91" fill="#222"/>
<rect x="534.54" y="333.46" width="9.35" height="9.89" fill="#3a3a3a" />
<rect x="535.14" y="334.06" width="2.02" height="1.47" fill="#b4b4b4" />
<rect x="538.05" y="334.06" width="2.02" height="1.47" fill="#b4b4b4" />
<rect x="540.97" y="334.06" width="2.02" height="1.47" fill="#b4b4b4" />
<rect x="535.14" y="336.38" width="2.02" height="1.47" fill="#b4b4b4" />
<rect x="538.05" y="336.38" width="2.02" height="1.47" fill="#b4b4b4" />
<rect x="540.97" y="336.38" width="2.02" height="1.47" fill="#b4b4b4" />
<rect x="535.14" y="338.71" width="2.02" height="1.47" fill="#b4b4b4" />
<rect x="538.05" y="338.71" width="2.02" height="1.47" fill="#b4b4b4" />
<rect x="540.97" y="338.71" width="2.02" height="1.47" fill="#b4b4b4" />
<rect x="535.14" y="341.03" width="2.02" height="1.47" fill="#b4b4b4" />
<rect x="538.05" y="341.03" width="2.02" height="1.47" fill="#b4b4b4" />
<rect x="540.97" y="341.03" width="2.02" height="1.47" fill="#b4b4b4" />
<rect x="549.20" y="322.69" width="1.20" height="2.91" fill="#777" />
<rect x="549.20" y="341.90" width="1.20" height="2.91" fill="#777" />
<path d="M567 329.5 L581 328.7 L583 330.5 L583 341.7 L566 341.7 L565.6 333 Z" fill="#1a1a1a"/>
<rect x="568.00" y="329.20" width="2.50" height="1.40" fill="#bcbcbc" />
<rect x="576.50" y="328.90" width="2.50" height="1.40" fill="#bcbcbc" />
<path d="M582.5 332 L585 332.5 L586.8 336.5 L585 339 L582.5 339.5 Z" fill="#2a2a2a"/>
<rect x="571.00" y="334.80" width="10.30" height="4.80" fill="#f2f2f2" stroke="#444" stroke-width="0.4"/>
<rect x="572.50" y="336.60" width="7.00" height="1.10" fill="#8a8a8a" />
<path d="M445 389 L446.5 377.5 L453 375.5 L457.5 379 L456.5 389 Z" fill="#a2a2a2"/>
<path d="M452 376 L457.5 379 L456.5 389 L452.5 389 Z" fill="#6a6a6a"/>
<rect x="443.50" y="386.80" width="14.50" height="3.00" fill="#4a4a4a" />
<rect x="464.30" y="370.50" width="3.00" height="5.00" fill="#6a6a6a" />
<circle cx="466" cy="367.3" r="4.3" fill="#262626"/><circle cx="464.8" cy="366.2" r="1.7" fill="#8a8a8a"/>
<g transform="translate(439.5 366) rotate(29)"><rect x="0" y="-5" width="30" height="10" fill="url(#chrome)"/><circle cx="0" cy="0" r="5.2" fill="#3a3a3a"/><circle cx="-0.6" cy="-1" r="3.6" fill="#e2e2e2"/><circle cx="0.4" cy="0.6" r="2.2" fill="#9a9a9a"/><ellipse cx="30" cy="0" rx="2.6" ry="5.1" fill="#cfcfcf" stroke="#444" stroke-width="0.8"/><ellipse cx="30.3" cy="0" rx="1.6" ry="3.2" fill="#2a2a2a"/></g>
<rect x="499.50" y="365.50" width="4.00" height="3.00" fill="#777" />
<circle cx="501.50" cy="378.00" r="9.9" fill="#4a4c55"/>
<circle cx="501.50" cy="378.00" r="8.0" fill="#80848e"/>
<circle cx="501.50" cy="378.00" r="6.3" fill="#cdd6ef"/>
<rect x="504.00" y="377.20" width="3.50" height="1.60" fill="#334" />
<rect x="499.60" y="429.90" width="4.00" height="3.00" fill="#777" />
<circle cx="501.60" cy="442.40" r="9.9" fill="#4a4c55"/>
<circle cx="501.60" cy="442.40" r="8.0" fill="#80848e"/>
<circle cx="501.60" cy="442.40" r="6.3" fill="#cdd6ef"/>
<rect x="504.10" y="441.60" width="3.50" height="1.60" fill="#334" />
<path d="M441 433.3 L464 433.3 L464 435.2 L461.7 435.6 L461.7 446.5 Q459 449 457.5 450 L447.5 450 Q445.5 449 443.3 446.5 L443.3 435.6 L441 435.2 Z" fill="url(#chrome2)"/>
<path d="M446.5 448.5 L458.5 448.5 Q458.5 455.5 452.5 455.5 Q446.5 455.5 446.5 448.5 Z" fill="#2e2e2e"/>
<ellipse cx="451.5" cy="451" rx="2.5" ry="1.8" fill="#777"/>
<rect x="441.00" y="433.30" width="23.00" height="1.30" fill="#9a9a9a" />
</svg>
<div class="t" style="left:72.80px;top:143.20px">监控终端</div>
<div class="t" style="left:183.50px;top:143.10px">扩展存储柜</div>
<div class="t" style="left:301.20px;top:143.10px">锆场管理服务器</div>
<div class="t" style="left:414.40px;top:143.00px">硬盘录像机</div>
<div class="t" style="left:493.50px;top:143.15px">电视墙</div>
<div class="t" style="left:74.85px;top:200.85px">地面</div>
<div class="t" style="left:127.50px;top:200.85px">地面交换机</div>
<div class="t" style="left:262.45px;top:200.25px">地面核心交换机</div>
<div class="t" style="left:410.60px;top:202.35px">井口交换机</div>
<div class="t" style="left:74.35px;top:243.45px">井下</div>
<div class="t" style="left:274.40px;top:244.65px">工业环网</div>
<div class="t" style="left:58.75px;top:271.80px">信号转换器</div>
<div class="t" style="left:157.35px;top:271.45px">防爆交换机</div>
<div class="t" style="left:364.80px;top:272.10px">防爆交换机</div>
<div class="t" style="left:103.35px;top:396.10px">LED显示屏</div>
<div class="t" style="left:168.95px;top:396.10px">AI智能摄像机</div>
<div class="t" style="left:102.15px;top:459.80px">可视对讲音箱</div>
<div class="t" style="left:104.90px;top:480.05px">智能模式</div>
<div class="t" style="left:457.35px;top:299.85px">信号转换器</div>
<div class="t" style="left:526.60px;top:300.10px">LED显示屏</div>
<div class="t" style="left:496.90px;top:354.15px">可视对讲音箱</div>
<div class="t" style="left:557.25px;top:354.15px">计数开关</div>
<div class="t" style="left:456.80px;top:391.95px">隔爆摄</div>
<div class="t" style="left:462.30px;top:403.10px">像机</div>
<div class="t" style="left:488.15px;top:397.45px">拾音器</div>
<div class="t" style="left:457.65px;top:454.30px">全景摄</div>
<div class="t" style="left:462.30px;top:464.78px">像机</div>
<div class="t" style="left:489.45px;top:459.80px">拾音器</div>
<div class="t" style="left:503.65px;top:480.25px">传统模式</div>
</body></html>
